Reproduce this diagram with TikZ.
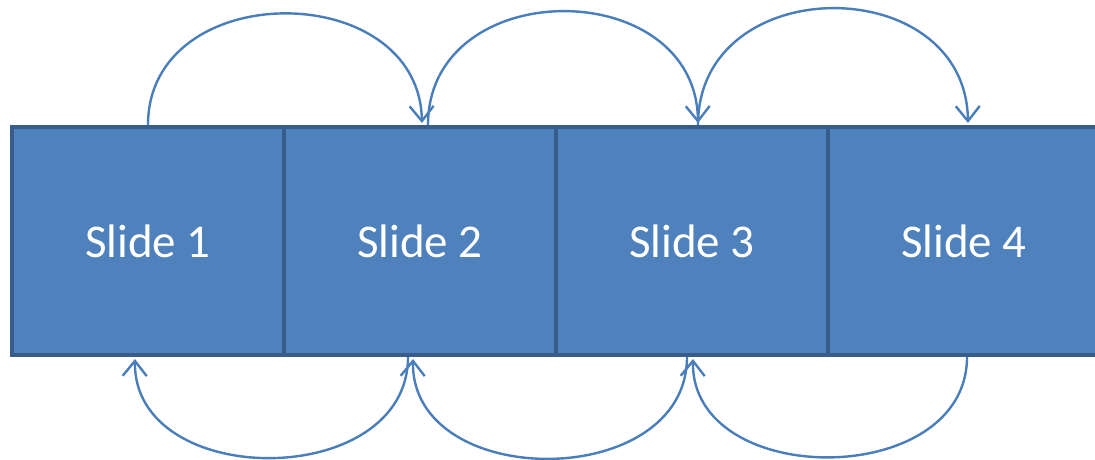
\documentclass[tikz,border=0pt]{standalone}
\usepackage{fontspec}
\setmainfont{Carlito}
\usetikzlibrary{arrows.meta}
\definecolor{slidefill}{HTML}{4F81BD}
\definecolor{slideedge}{HTML}{385D8A}
\definecolor{arcblue}{HTML}{4A7EBB}
\tikzset{
  slidebox/.style={draw=slideedge, fill=slidefill, line width=4pt,
    minimum width=272pt, minimum height=228pt, inner sep=0pt,
    text=white, font=\fontsize{47}{56}\selectfont},
  hop/.style={draw=arcblue, line width=2.4pt,
    -{Straight Barb[length=15pt,width=24pt,line width=2.4pt]}, shorten >=2pt}
}
\begin{document}
\begin{tikzpicture}[x=1pt,y=-1pt]
\useasboundingbox (0,0) rectangle (1095,459);
\clip (0,0) rectangle (1095,459);
\node[slidebox] (s1) at (148,241) {Slide 1};
\node[slidebox] (s2) at (420,241) {Slide 2};
\node[slidebox] (s3) at (692,241) {Slide 3};
\node[slidebox] (s4) at (964,241) {Slide 4};
% top arcs
\draw[hop] (s1.north) .. controls +(0,-148) and +(-3,-148) .. ([xshift=2pt]s2.north);
\draw[hop] ([xshift=8pt]s2.north) .. controls +(0,-151) and +(-2,-151) .. ([xshift=6pt]s3.north);
\draw[hop] ([xshift=6pt]s3.north) .. controls +(0,-155) and +(-2,-155) .. ([xshift=4pt]s4.north);
% bottom arcs
\draw[hop] ([xshift=3pt]s4.south) .. controls +(0,133) and +(-2,133) .. ([xshift=1pt]s3.south);
\draw[hop] ([xshift=-5pt]s3.south) .. controls +(0,135) and +(-2,135) .. ([xshift=-7pt]s2.south);
\draw[hop] ([xshift=-12pt]s2.south) .. controls +(0,134) and +(-2,134) .. ([xshift=-13pt]s1.south);
\end{tikzpicture}
\end{document}
